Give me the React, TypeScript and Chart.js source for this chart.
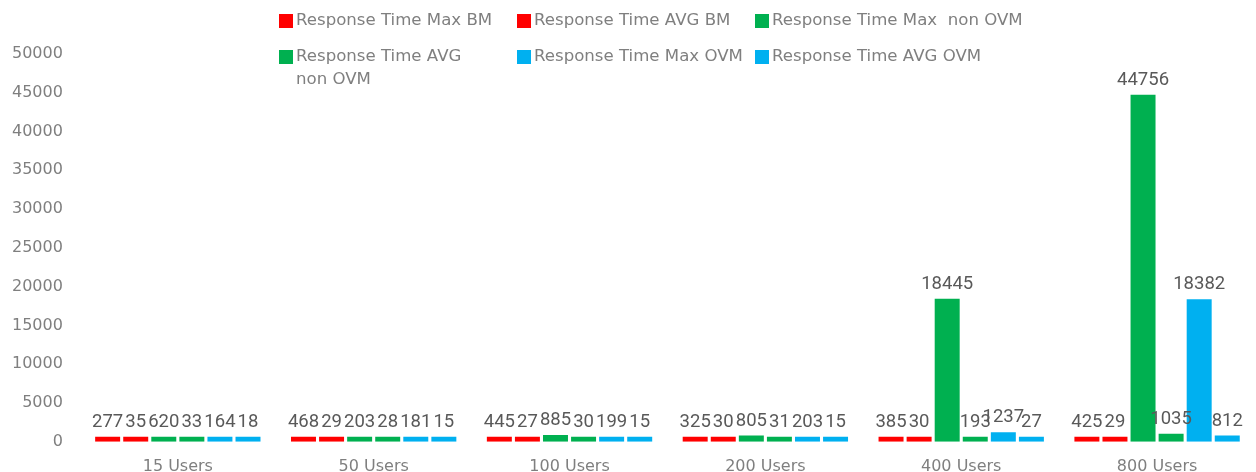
import React, { useEffect, useRef } from "react";
import { Chart, registerables } from "chart.js";

Chart.register(...registerables);

const categories = ["15 Users", "50 Users", "100 Users", "200 Users", "400 Users", "800 Users"];
const maxBM = [277, 468, 445, 325, 385, 425];
const avgBM = [35, 29, 27, 30, 30, 29];
const maxNonOVM = [620, 203, 885, 805, 18445, 44756];
const avgNonOVM = [33, 28, 30, 31, 193, 1035];
const maxOVM = [164, 181, 199, 203, 1237, 18382];
const avgOVM = [18, 15, 15, 15, 27, 812];

const seriesNames = [
  "Response Time Max BM",
  "Response Time AVG BM",
  "Response Time Max  non OVM",
  "Response Time AVG non OVM",
  "Response Time Max OVM",
  "Response Time AVG OVM",
];
const legendLines = [
  ["Response Time Max BM"],
  ["Response Time AVG BM"],
  ["Response Time Max  non OVM"],
  ["Response Time AVG", "non OVM"],
  ["Response Time Max OVM"],
  ["Response Time AVG OVM"],
];
const seriesColors = ["#FF0000", "#FF0000", "#00B050", "#00B050", "#00B0F0", "#00B0F0"];
const seriesValues = [maxBM, avgBM, maxNonOVM, avgNonOVM, maxOVM, avgOVM];

const yMin = 0;
const yMax = 50000;
const yStep = 5000;

const AXIS_FONT = "'DejaVu Sans', sans-serif";
const LABEL_FONT = "Roboto, sans-serif";

const dataLabelPlugin = {
  id: "dataLabels",
  afterDatasetsDraw(chart: any) {
    const ctx = chart.ctx;
    ctx.save();
    ctx.font = `18.5px ${LABEL_FONT}`;
    ctx.fillStyle = "#595959";
    ctx.textAlign = "center";
    ctx.textBaseline = "alphabetic";
    chart.data.datasets.forEach((ds: any, di: number) => {
      const meta = chart.getDatasetMeta(di);
      meta.data.forEach((el: any, i: number) => {
        ctx.fillText(String(ds.data[i]), el.x, el.y - 10);
      });
    });
    ctx.restore();
  },
};

const legendPlugin = {
  id: "customLegend",
  afterDraw(chart: any) {
    const ctx = chart.ctx;
    const colX = [279, 517, 755];
    const rowY = [21, 57];
    const lineH = 23;
    ctx.save();
    ctx.font = `16.6px ${AXIS_FONT}`;
    ctx.textBaseline = "middle";
    ctx.textAlign = "left";
    chart.data.datasets.forEach((ds: any, i: number) => {
      const x = colX[i % 3];
      const y = rowY[Math.floor(i / 3)];
      ctx.fillStyle = ds.backgroundColor;
      ctx.fillRect(x, y - 7, 14, 14);
      ctx.fillStyle = "#7F7F7F";
      legendLines[i].forEach((line: string, li: number) => {
        ctx.fillText(line, x + 17, y + li * lineH);
      });
    });
    ctx.restore();
  },
};

export default function App() {
  const ref = useRef<HTMLCanvasElement | null>(null);
  useEffect(() => {
    document.body.style.margin = "0";
    if (!ref.current) return;
    const chart = new Chart(ref.current, {
      type: "bar",
      data: {
        labels: categories,
        datasets: seriesValues.map((vals, i) => ({
          label: seriesNames[i],
          data: vals,
          backgroundColor: seriesColors[i],
          borderWidth: 0,
          minBarLength: 5,
          categoryPercentage: 0.86,
          barPercentage: 0.89,
        })),
      },
      options: {
        responsive: false,
        animation: false,
        devicePixelRatio: 1,
        layout: { padding: { left: 3, top: 54, right: 1, bottom: 2 } },
        plugins: {
          legend: { display: false },
          tooltip: { enabled: false },
        },
        scales: {
          x: {
            grid: { display: false },
            border: { display: false },
            ticks: {
              color: "#7F7F7F",
              font: { family: AXIS_FONT, size: 16 },
              padding: 7,
            },
          },
          y: {
            min: yMin,
            max: yMax,
            grid: { display: false },
            border: { display: false },
            ticks: {
              stepSize: yStep,
              color: "#7F7F7F",
              font: { family: AXIS_FONT, size: 16 },
              padding: 9,
              callback: (v: any) => String(v),
            },
          },
        },
      },
      plugins: [dataLabelPlugin, legendPlugin],
    });
    return () => chart.destroy();
  }, []);
  return (
    <div style={{ position: "absolute", left: 0, top: 0, width: 1256, height: 472, overflow: "hidden", background: "#fff" }}>
      <canvas ref={ref} width={1256} height={485} style={{ width: 1256, height: 485, display: "block" }} />
    </div>
  );
}
